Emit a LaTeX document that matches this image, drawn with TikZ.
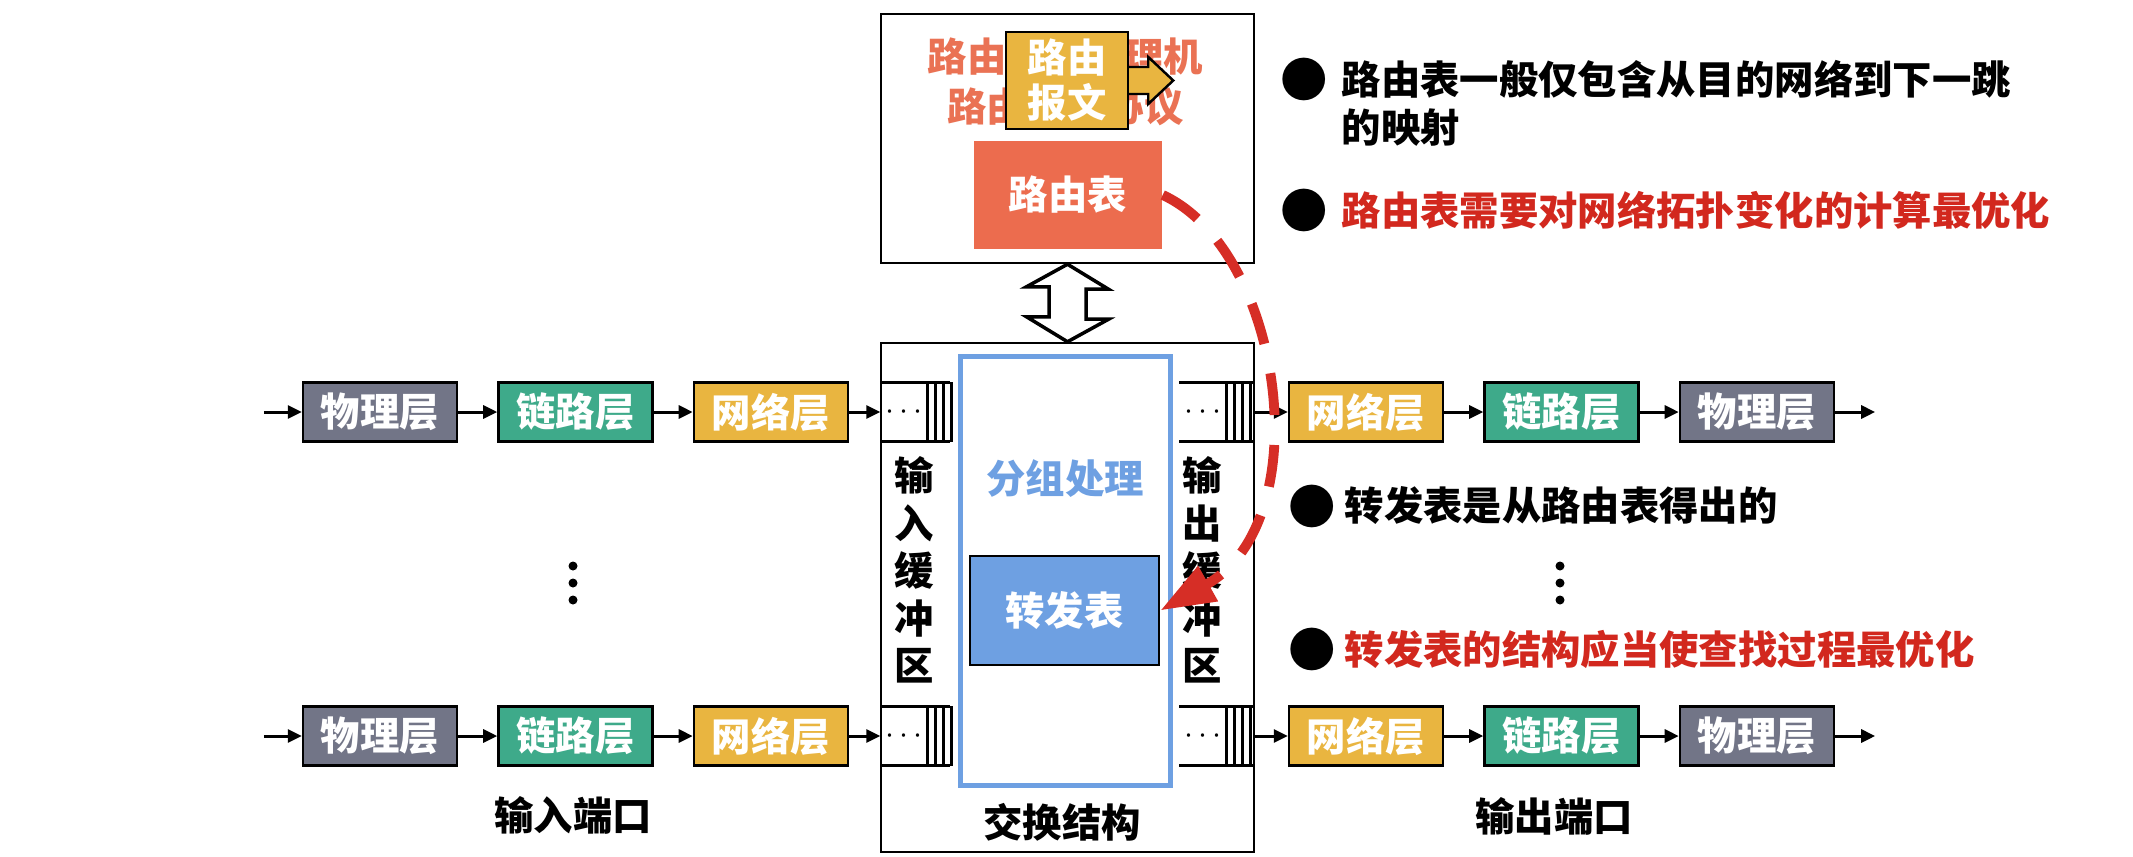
\documentclass[tikz,border=0pt]{standalone}
\usepackage{fontspec}
\newfontfamily\cjk{Noto Sans CJK SC}
\usetikzlibrary{positioning, arrows.meta, calc}

\definecolor{phycol}{RGB}{114,117,135}
\definecolor{linkcol}{RGB}{62,170,138}
\definecolor{netcol}{RGB}{233,181,64}
\definecolor{routecol}{RGB}{236,108,78}
\definecolor{titlecol}{RGB}{234,114,84}
\definecolor{bluecol}{RGB}{110,160,226}
\definecolor{redcol}{RGB}{210,40,30}
\definecolor{dashcol}{RGB}{214,46,38}

\begin{document}
\begin{tikzpicture}[
    >={Triangle[length=0.14cm, width=0.13cm]},
    font={\cjk\fontsize{11.2}{13.6}\selectfont\bfseries},
    % 各層のボックス
    layer/.style={draw=black, line width=0.7pt, minimum width=1.54cm,
        minimum height=0.59cm, text=white, inner sep=0pt},
    flow/.style={->, line width=0.85pt},
    % バッファ本体（点の部分）
    bufbody/.style={minimum width=0.46cm, minimum height=0.58cm, inner sep=0pt,
        font=\fontsize{9}{10}\selectfont},
    frame/.style={draw=black, line width=0.7pt, inner sep=0pt},
    note/.style={anchor=west, align=left, inner sep=0pt,
        font={\cjk\fontsize{11.2}{13.66}\selectfont\bfseries}},
    bulletdot/.style={inner sep=0pt, font={\cjk\fontsize{13.5}{14}\selectfont}}
]
    \fill [white] (0,0) rectangle (21.33,8.56);

    % --- 1. 路由选择处理机 ---
    \node [frame, minimum width=3.73cm, minimum height=2.49cm] (proc) at (10.675,7.175) {};
    \node [text=titlecol, align=center, inner sep=0pt,
        font={\cjk\fontsize{11.2}{14.2}\selectfont\bfseries}] (proctitle) at (10.655,7.74)
        {路由选择处理机\\路由选择协议};
    \node [draw=black, line width=0.7pt, fill=netcol, text=white, align=center, inner sep=0pt,
        minimum width=1.22cm, minimum height=0.97cm,
        font={\cjk\fontsize{11.2}{12.8}\selectfont\bfseries}] (msg) at (10.67,7.755) {路由\\报文};
    \draw [line width=0.7pt, fill=netcol] ($(msg.east)+(0,0.135)$) -- ++(0.19,0) -- ++(0,0.10)
        -- ++(0.25,-0.235) -- ++(-0.25,-0.235) -- ++(0,0.10) -- ++(-0.19,0);
    \node [fill=routecol, text=white, inner sep=0pt, minimum width=1.88cm,
        minimum height=1.08cm] (route) at (10.68,6.61) {路由表};

    % --- 2. 交换结构 ---
    \node [frame, minimum width=3.73cm, minimum height=5.09cm] (switch) at (10.675,2.585) {};
    \node (swtitle) at (10.62,0.34) {交换结构};
    \node [draw=bluecol, line width=1.4pt, minimum width=2.10cm, minimum height=4.29cm] (pkt)
        at (10.655,2.85) {};
    \node [text=bluecol] (pkttitle) at (10.65,3.77) {分组处理};
    \node [draw=black, line width=0.7pt, fill=bluecol, text=white, inner sep=0pt,
        minimum width=1.89cm, minimum height=1.09cm] (fwd) at (10.645,2.455) {转发表};

    % 上下の双方向矢印
    \draw [line width=1pt, fill=white] (proc.south) -- ++(0.41,-0.25) -- ++(-0.225,0) -- ++(0,-0.30)
        -- ++(0.225,0) -- (switch.north) -- ++(-0.41,0.25) -- ++(0.225,0) -- ++(0,0.30)
        -- ++(-0.225,0) -- cycle;

    % 縦書きラベル
    \node [align=center, font={\cjk\fontsize{11.2}{13.5}\selectfont\bfseries}] (inlabel)
        at (9.14,2.86) {输\\入\\缓\\冲\\区};
    \node [align=center, font={\cjk\fontsize{11.2}{13.5}\selectfont\bfseries}] (outlabel)
        at (12.02,2.86) {输\\出\\缓\\冲\\区};

    % --- 3. 入出力ポート（2行） ---
    \foreach \row/\y in {A/4.44, B/1.20} {
        \node [layer, fill=phycol] (phy\row) at (3.80,\y) {物理层};
        \node [layer, fill=linkcol, right=0.39cm of phy\row] (link\row) {链路层};
        \node [layer, fill=netcol, right=0.39cm of link\row] (net\row) {网络层};
        \coordinate [left=0.38cm of phy\row] (start\row);

        \node [bufbody] (inbuf\row) at (9.04,\y) {$\cdots$};
        \draw [line width=0.7pt] (inbuf\row.north west) -- ++(0.70,0);
        \draw [line width=0.7pt] (inbuf\row.south west) -- ++(0.70,0);
        \node [bufbody] (outbuf\row) at (12.03,\y) {$\cdots$};
        \draw [line width=0.7pt] (outbuf\row.north west) -- ++(0.74,0);
        \draw [line width=0.7pt] (outbuf\row.south west) -- ++(0.74,0);
        \foreach \dx in {0, 0.08, 0.16, 0.24} {
            \draw [line width=0.7pt] ([xshift=\dx cm]inbuf\row.north east) -- ([xshift=\dx cm]inbuf\row.south east);
            \draw [line width=0.7pt] ([xshift=\dx cm]outbuf\row.north east) -- ([xshift=\dx cm]outbuf\row.south east);
        }
        \coordinate (outend\row) at ([xshift=0.28cm]outbuf\row.east);

        \node [layer, fill=netcol] (onet\row) at (13.66,\y) {网络层};
        \node [layer, fill=linkcol, right=0.39cm of onet\row] (olink\row) {链路层};
        \node [layer, fill=phycol, right=0.39cm of olink\row] (ophy\row) {物理层};
        \coordinate [right=0.40cm of ophy\row] (end\row);

        \draw [flow] (start\row) -- (phy\row);
        \draw [flow] (phy\row) -- (link\row);
        \draw [flow] (link\row) -- (net\row);
        \draw [flow] (net\row) -- (inbuf\row);
        \draw [flow] (outend\row) -- (onet\row);
        \draw [flow] (onet\row) -- (olink\row);
        \draw [flow] (olink\row) -- (ophy\row);
        \draw [flow] (ophy\row) -- (end\row);
    }
    \node (inport) at (5.73,0.41) {输入端口};
    \node (outport) at (15.54,0.40) {输出端口};

    % 省略の点
    \foreach \y in {2.90, 2.73, 2.56} {
        \fill (5.73,\y) circle (0.045);
        \fill (15.60,\y) circle (0.045);
    }

    % --- 4. 赤い破線矢印（路由表 → 转发表） ---
    \draw [dashcol, line width=2.8pt, dash pattern=on 0.42cm off 0.30cm,
        -{Triangle[length=0.55cm, width=0.38cm]}]
        (route.east) .. controls +(1.2,-0.55) and +(1.6,0.9) .. (fwd.east);

    % --- 5. 説明文 ---
    \node [bulletdot] (dotA) at (13.04,7.77) {●};
    \node [note] (noteA) at (13.41,7.53) {路由表一般仅包含从目的网络到下一跳\\的映射};
    \node [bulletdot] (dotB) at (13.04,6.46) {●};
    \node [note, text=redcol] (noteB) at (13.41,6.46) {路由表需要对网络拓扑变化的计算最优化};
    \node [bulletdot] (dotC) at (13.12,3.50) {●};
    \node [note] (noteC) at (13.44,3.50) {转发表是从路由表得出的};
    \node [bulletdot] (dotD) at (13.12,2.07) {●};
    \node [note, text=redcol] (noteD) at (13.44,2.07) {转发表的结构应当使查找过程最优化};

\end{tikzpicture}
\end{document}
